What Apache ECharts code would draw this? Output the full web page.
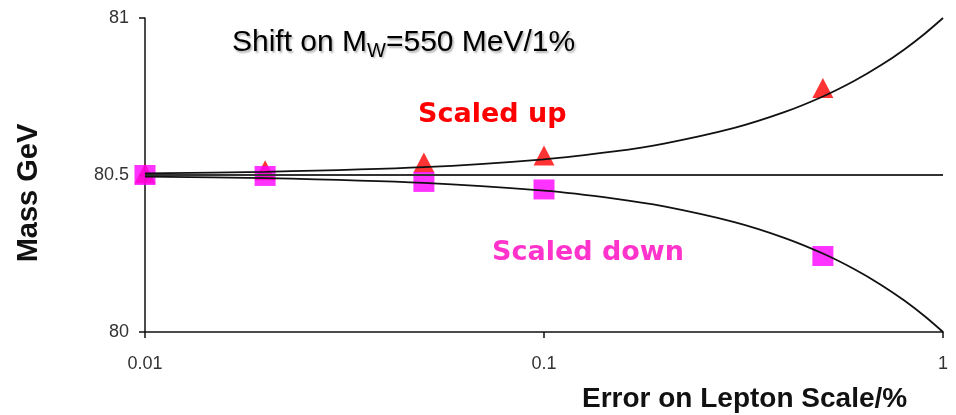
<!DOCTYPE html>
<html>
<head>
<meta charset="utf-8">
<script src="https://cdn.jsdelivr.net/npm/echarts@6/dist/echarts.min.js"></script>
<style>
  html, body { margin: 0; padding: 0; background: #fff; }
  #chart { width: 956px; height: 415px; }
</style>
</head>
<body>
<div id="chart"></div>
<script>
// Lepton scale error (%) at which the W mass was refitted
const scaleErrors = [0.01, 0.02, 0.05, 0.1, 0.5];
// Fitted W mass (GeV) with lepton energies scaled up / scaled down
const massScaledUp = [80.505, 80.515, 80.540, 80.562, 80.777];
const massScaledDown = [80.500, 80.497, 80.478, 80.454, 80.242];

// Trend curves through the points, sampled along the lepton-scale axis
const curveX = [0.01, 0.02, 0.05, 0.1, 0.15, 0.2, 0.3, 0.4, 0.5, 0.6, 0.7, 0.8, 0.9, 1.0];
const curveUp = [80.505, 80.51, 80.525, 80.55, 80.575, 80.6, 80.65, 80.7, 80.75, 80.8, 80.85, 80.9, 80.95, 81.0];
const curveDown = [80.495, 80.49, 80.475, 80.45, 80.425, 80.4, 80.35, 80.3, 80.25, 80.2, 80.15, 80.1, 80.05, 80.0];

// Nominal mass reference line
const nominalMass = 80.5;
const xRange = [0.01, 1];

// Axis tick labels
const yTicks = [80, 80.5, 81];
const xTicks = [0.01, 0.1, 1];

const zip = (xs, ys) => xs.map((x, i) => [x, ys[i]]);

const chart = echarts.init(document.getElementById('chart'));

const axisLine = { show: true, lineStyle: { color: '#111', width: 1.5 } };
const axisTick = { show: true, length: 6, lineStyle: { color: '#111', width: 1.5 } };
const tickLabel = { color: '#333', fontSize: 18, fontFamily: '"Liberation Sans", Arial, sans-serif' };

chart.setOption({
  animation: false,
  backgroundColor: '#fff',
  grid: { left: 145, right: 13, top: 18, bottom: 83 },
  xAxis: {
    type: 'log',
    logBase: 10,
    min: xRange[0],
    max: xRange[1],
    axisLine: axisLine,
    axisTick: axisTick,
    minorTick: { show: false },
    splitLine: { show: false },
    axisLabel: Object.assign({}, tickLabel, {
      margin: 23,
      formatter: v => {
        const t = xTicks.find(k => Math.abs(k - v) / k < 1e-6);
        return t === undefined ? '' : String(t);
      }
    })
  },
  yAxis: {
    type: 'value',
    min: yTicks[0],
    max: yTicks[yTicks.length - 1],
    interval: 0.5,
    axisLine: axisLine,
    axisTick: axisTick,
    splitLine: { show: false },
    axisLabel: Object.assign({}, tickLabel, {
      margin: 16,
      formatter: v => String(yTicks.find(k => Math.abs(k - v) < 1e-6))
    })
  },
  series: [
    {
      name: 'Scaled up points',
      type: 'scatter',
      data: zip(scaleErrors, massScaledUp),
      symbol: 'triangle',
      symbolSize: [21, 20],
      itemStyle: { color: '#ff0000' },
      z: 2
    },
    {
      name: 'Scaled down points',
      type: 'scatter',
      data: zip(scaleErrors, massScaledDown),
      symbol: 'rect',
      symbolSize: [21, 20],
      itemStyle: { color: '#ff00ff' },
      z: 3
    },
    {
      name: 'Nominal',
      type: 'line',
      data: [[xRange[0], nominalMass], [xRange[1], nominalMass]],
      symbol: 'none',
      lineStyle: { color: '#333', width: 2 },
      z: 4
    },
    {
      name: 'Scaled up trend',
      type: 'line',
      data: zip(curveX, curveUp),
      smooth: 0.3,
      symbol: 'none',
      lineStyle: { color: '#111', width: 1.8 },
      z: 5
    },
    {
      name: 'Scaled down trend',
      type: 'line',
      data: zip(curveX, curveDown),
      smooth: 0.3,
      symbol: 'none',
      lineStyle: { color: '#111', width: 1.8 },
      z: 5
    }
  ],
  graphic: [
    {
      type: 'text',
      left: 232,
      top: 28,
      style: {
        text: 'Shift on M{sub|W}=550 MeV/1%',
        fill: '#000',
        font: '30px "Liberation Sans", Arial, sans-serif',
        textShadowColor: 'rgba(0,0,0,0.3)',
        textShadowBlur: 2,
        textShadowOffsetX: 1.5,
        textShadowOffsetY: 1.5,
        rich: {
          sub: {
            fontSize: 20,
            fontFamily: '"Liberation Sans", Arial, sans-serif',
            fill: '#000',
            padding: [16, 0, 0, 0]
          }
        }
      }
    },
    {
      type: 'text',
      left: 418,
      top: 101,
      style: {
        text: 'Scaled up',
        fill: '#ff0000',
        font: 'bold 27px "DejaVu Sans", sans-serif'
      }
    },
    {
      type: 'text',
      left: 492,
      top: 239,
      style: {
        text: 'Scaled down',
        fill: '#ff33cc',
        font: 'bold 27px "DejaVu Sans", sans-serif'
      }
    },
    {
      type: 'text',
      left: 582,
      top: 385,
      style: {
        text: 'Error on Lepton Scale/%',
        fill: '#111',
        font: 'bold 28px "Liberation Sans", Arial, sans-serif'
      }
    },
    {
      type: 'text',
      x: 29,
      y: 193,
      rotation: Math.PI / 2,
      style: {
        text: 'Mass GeV',
        fill: '#111',
        font: 'bold 29px "Liberation Sans", Arial, sans-serif',
        align: 'center',
        verticalAlign: 'middle'
      }
    }
  ]
});
</script>
</body>
</html>
